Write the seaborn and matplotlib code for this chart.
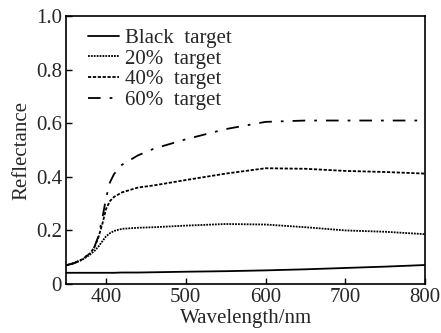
import numpy as np
import pandas as pd
import seaborn as sns
import matplotlib
matplotlib.use("Agg")
import matplotlib.pyplot as plt

wavelength = [350, 360, 370, 380, 385, 390, 395, 400, 405, 410, 420, 440, 460, 500, 550, 600, 650, 700, 750, 800]
black = [0.042, 0.042, 0.042, 0.042, 0.042, 0.042, 0.042, 0.042, 0.042, 0.042, 0.043, 0.043, 0.044, 0.046, 0.048, 0.051, 0.055, 0.060, 0.065, 0.071]
p20 = [0.070, 0.078, 0.090, 0.110, 0.122, 0.138, 0.158, 0.178, 0.190, 0.198, 0.206, 0.210, 0.212, 0.218, 0.224, 0.222, 0.212, 0.200, 0.195, 0.186]
p40 = [0.070, 0.078, 0.092, 0.115, 0.135, 0.170, 0.220, 0.280, 0.310, 0.325, 0.342, 0.360, 0.368, 0.388, 0.412, 0.432, 0.430, 0.422, 0.418, 0.412]
p60 = [0.070, 0.078, 0.092, 0.115, 0.135, 0.175, 0.240, 0.320, 0.380, 0.410, 0.445, 0.480, 0.505, 0.540, 0.578, 0.605, 0.610, 0.610, 0.610, 0.610]

labels = ["Black  target", "20%  target", "40%  target", "60%  target"]
styles = ["-", (0, (1, 0.6)), (0, (1.8, 0.9)), (0, (7, 5, 1.5, 5))]

sns.set_style("ticks")
plt.rcParams["font.family"] = ["Liberation Serif", "DejaVu Serif"]
plt.rcParams["xtick.direction"] = "in"
plt.rcParams["ytick.direction"] = "in"

fig = plt.figure(figsize=(4.41, 3.33), dpi=100)
ax = fig.add_axes([0.15, 0.147, 0.814, 0.805])

for vals, lab, ls in zip([black, p20, p40, p60], labels, styles):
    sns.lineplot(x=wavelength, y=vals, ax=ax, color="black", linewidth=1.3,
                 linestyle=ls, label=lab)

ax.set_xlim(350, 800)
ax.set_ylim(0, 1.0)
ax.set_xticks([400, 500, 600, 700, 800])
ax.set_yticks([0, 0.2, 0.4, 0.6, 0.8, 1.0])
ax.set_yticklabels(["0", "0.2", "0.4", "0.6", "0.8", "1.0"])
ax.tick_params(labelsize=15, length=4, width=1, color="black", pad=3)
ax.set_xlabel("Wavelength/nm", fontsize=15, labelpad=1)
ax.set_ylabel("Reflectance", fontsize=15, labelpad=3)
for s in ax.spines.values():
    s.set_linewidth(1.2)
    s.set_color("black")

ax.legend(loc="upper left", frameon=False, fontsize=15, handlelength=1.45,
          handletextpad=0.3, labelspacing=0.05, borderaxespad=0.0,
          bbox_to_anchor=(0.039, 0.985))

fig.savefig("out.png", dpi=100)
